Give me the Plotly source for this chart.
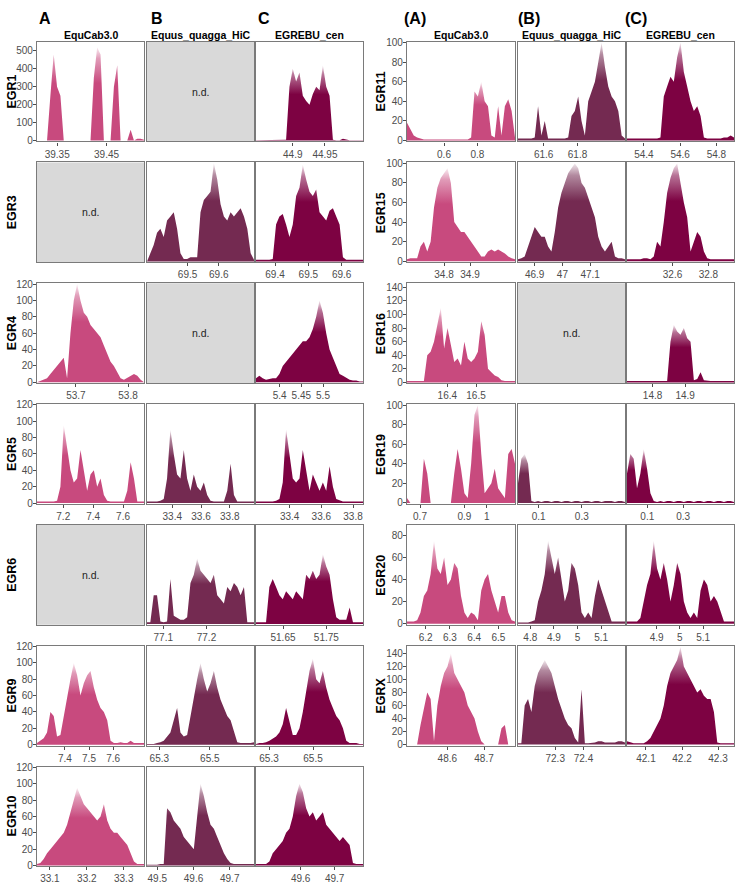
import numpy as np
import plotly.graph_objects as go

# the page body margin is removed (see post_script), so the figure fills the window
OFF = 0
W, H = 740 - OFF, 886 - OFF

genomes = ["EquCab3.0", "Equus_quagga_HiC", "EGREBU_cen"]
fill_colors = ["#C84A7E", "#742A51", "#7D0242"]
left_letters = ["A", "B", "C"]
right_letters = ["(A)", "(B)", "(C)"]

left_genes = ["EGR1", "EGR3", "EGR4", "EGR5", "EGR6", "EGR9", "EGR10"]
right_genes = ["EGR11", "EGR15", "EGR16", "EGR19", "EGR20", "EGRX"]

# y-axis limits and tick values per gene
y_limits = {
    "EGR1": (-5, 552), "EGR3": (-1, 121), "EGR4": (-1, 121), "EGR5": (-1, 121),
    "EGR6": (-1, 121), "EGR9": (-1, 121), "EGR10": (-1, 121),
    "EGR11": (-1, 101), "EGR15": (-1, 101), "EGR16": (-1, 146), "EGR19": (-1, 101),
    "EGR20": (-1, 89.5), "EGRX": (-1.5, 152),
}
y_ticks = {
    "EGR1": [0, 100, 200, 300, 400, 500],
    "EGR3": [0, 20, 40, 60, 80, 100, 120], "EGR4": [0, 20, 40, 60, 80, 100, 120],
    "EGR5": [0, 20, 40, 60, 80, 100, 120], "EGR6": [0, 20, 40, 60, 80, 100, 120],
    "EGR9": [0, 20, 40, 60, 80, 100, 120], "EGR10": [0, 20, 40, 60, 80, 100, 120],
    "EGR11": [0, 20, 40, 60, 80, 100], "EGR15": [0, 20, 40, 60, 80, 100],
    "EGR16": [0, 20, 40, 60, 80, 100, 120, 140], "EGR19": [0, 20, 40, 60, 80, 100],
    "EGR20": [0, 20, 40, 60, 80], "EGRX": [0, 20, 40, 60, 80, 100, 120, 140],
}

# genomic windows (Mb) shown in each panel: [EquCab3.0, Equus_quagga_HiC, EGREBU_cen]; None = n.d.
windows = {
    "EGR1": [(39.309, 39.526), None, (44.843, 45.009)],
    "EGR3": [None, (69.370, 69.713), (69.343, 69.664)],
    "EGR4": [(53.6255, 53.8306), None, (5.3454, 5.5923)],
    "EGR5": [(7.0244, 7.74), (33.2243, 33.9688), (33.1874, 33.863)],
    "EGR6": [None, (77.0623, 77.31), (51.5877, 51.8346)],
    "EGR9": [(7.2841, 7.7283), (65.2513, 65.675), (65.2409, 65.7273)],
    "EGR10": [(33.0649, 33.355), (49.4716, 49.767), (49.4687, 49.7833)],
    "EGR11": [(0.378, 1.026), (61.449, 62.08), (54.3064, 54.8973)],
    "EGR15": [(34.6577, 35.073), (46.84, 47.2258), (32.3463, 32.9426)],
    "EGR16": [(16.2593, 16.636), None, (14.7214, 15.05)],
    "EGR19": [(0.6415, 1.1275), (0.0046, 0.5), (-0.013, 0.5833)],
    "EGR20": [(6.123, 6.5688), (4.7479, 5.2014), (4.7728, 5.2329)],
    "EGRX": [(48.49, 48.7845), (72.1683, 72.547), (42.0474, 42.3443)],
}

x_ticklabels = {
    "EGR1": [["39.35", "39.45"], None, ["44.9", "44.95"]],
    "EGR3": [None, ["69.5", "69.6"], ["69.4", "69.5", "69.6"]],
    "EGR4": [["53.7", "53.8"], None, ["5.4", "5.45", "5.5"]],
    "EGR5": [["7.2", "7.4", "7.6"], ["33.4", "33.6", "33.8"], ["33.4", "33.6", "33.8"]],
    "EGR6": [None, ["77.1", "77.2"], ["51.65", "51.75"]],
    "EGR9": [["7.4", "7.5", "7.6"], ["65.3", "65.5"], ["65.3", "65.5"]],
    "EGR10": [["33.1", "33.2", "33.3"], ["49.5", "49.6", "49.7"], ["49.6", "49.7"]],
    "EGR11": [["0.6", "0.8"], ["61.6", "61.8"], ["54.4", "54.6", "54.8"]],
    "EGR15": [["34.8", "34.9"], ["46.9", "47", "47.1"], ["32.6", "32.8"]],
    "EGR16": [["16.4", "16.5"], None, ["14.8", "14.9"]],
    "EGR19": [["0.7", "0.9", "1"], ["0.1", "0.3"], ["0.1", "0.3"]],
    "EGR20": [["6.2", "6.3", "6.4", "6.5"], ["4.8", "4.9", "5", "5.1"], ["4.9", "5", "5.1"]],
    "EGRX": [["48.6", "48.7"], ["72.3", "72.4"], ["42.1", "42.2", "42.3"]],
}

# read coverage, sampled evenly across each window
coverage = {
    "EGR1": [
        [0, 0, 0, 0, 250, 480, 300, 250, 0, 0, 0, 0, 0, 0, 0, 0, 0, 350, 520, 480, 0, 0, 0, 300, 420, 0, 0, 0, 60, 0, 10, 10, 5],
        None,
        [2, 2, 2, 2, 2, 2, 2, 2, 2, 5, 300, 400, 330, 380, 250, 220, 200, 260, 300, 280, 420, 300, 250, 5, 2, 2, 10, 5, 2, 2, 2, 2, 2],
    ],
    "EGR3": [
        None,
        [0, 10, 20, 35, 40, 30, 50, 55, 60, 40, 10, 3, 3, 5, 5, 5, 60, 75, 80, 85, 120, 100, 70, 55, 50, 60, 55, 60, 65, 55, 40, 10, 2],
        [2, 2, 2, 2, 2, 3, 45, 55, 58, 45, 30, 45, 80, 90, 118, 100, 85, 80, 88, 60, 55, 50, 62, 65, 55, 45, 5, 2, 2, 2, 2, 2, 2],
    ],
    "EGR4": [
        [0, 2, 3, 5, 10, 15, 20, 25, 30, 5, 60, 100, 120, 100, 85, 80, 70, 65, 60, 55, 45, 35, 25, 20, 12, 5, 3, 5, 8, 10, 8, 3, 0],
        None,
        [5, 8, 5, 3, 4, 5, 5, 10, 20, 25, 30, 35, 40, 45, 50, 50, 55, 65, 80, 100, 85, 60, 40, 30, 20, 10, 8, 5, 3, 2, 2, 1, 1],
    ],
    "EGR5": [
        [2, 2, 2, 2, 2, 2, 3, 20, 95, 70, 40, 25, 30, 65, 40, 15, 35, 40, 20, 30, 10, 3, 2, 2, 2, 2, 2, 15, 50, 30, 2, 2, 2],
        [2, 2, 2, 2, 3, 5, 30, 90, 60, 35, 30, 65, 30, 15, 35, 20, 15, 25, 10, 3, 2, 2, 2, 2, 15, 48, 10, 2, 2, 2, 2, 2, 2],
        [2, 2, 2, 2, 2, 2, 3, 5, 25, 90, 60, 30, 25, 30, 65, 40, 15, 35, 25, 15, 25, 15, 45, 20, 5, 3, 2, 2, 2, 2, 2, 2, 2],
    ],
    "EGR6": [
        None,
        [2, 2, 35, 35, 3, 2, 3, 55, 10, 8, 5, 5, 8, 50, 60, 80, 65, 60, 55, 50, 60, 35, 30, 25, 45, 40, 50, 45, 35, 45, 2, 2, 2],
        [2, 2, 2, 2, 45, 55, 45, 35, 30, 40, 35, 30, 40, 35, 30, 60, 55, 65, 55, 60, 85, 70, 60, 30, 8, 5, 5, 5, 20, 2, 2, 2, 2],
    ],
    "EGR9": [
        [2, 5, 8, 15, 40, 35, 10, 12, 35, 60, 80, 100, 85, 60, 75, 85, 90, 70, 55, 45, 40, 30, 5, 2, 2, 3, 2, 2, 5, 2, 2, 2, 2],
        [1, 1, 1, 2, 3, 5, 10, 15, 30, 45, 15, 10, 12, 35, 60, 80, 100, 80, 65, 75, 90, 70, 55, 45, 35, 30, 15, 3, 2, 2, 2, 2, 3],
        [1, 2, 2, 3, 5, 8, 10, 15, 25, 45, 30, 12, 12, 20, 40, 65, 90, 105, 80, 75, 90, 70, 55, 45, 35, 30, 20, 5, 2, 2, 2, 1, 1],
    ],
    "EGR10": [
        [2, 3, 8, 15, 20, 25, 30, 35, 40, 50, 65, 80, 95, 85, 75, 70, 65, 60, 55, 60, 75, 55, 45, 40, 40, 35, 30, 25, 15, 5, 2, 2, 2],
        [1, 1, 1, 1, 2, 2, 70, 65, 55, 50, 45, 35, 30, 25, 20, 60, 100, 85, 65, 50, 45, 35, 25, 15, 8, 3, 2, 2, 2, 2, 2, 2, 2],
        [2, 2, 2, 2, 5, 15, 20, 25, 30, 40, 45, 60, 85, 100, 90, 70, 60, 65, 55, 60, 65, 50, 45, 40, 35, 30, 35, 30, 25, 3, 2, 2, 2],
    ],
    "EGR11": [
        [18, 12, 5, 3, 2, 1, 1, 1, 1, 1, 1, 1, 1, 1, 1, 1, 1, 1, 1, 3, 50, 45, 60, 40, 35, 5, 3, 35, 5, 35, 42, 30, 3],
        [2, 2, 2, 2, 2, 3, 35, 5, 20, 2, 2, 2, 2, 2, 2, 3, 25, 30, 45, 20, 5, 40, 50, 60, 80, 100, 75, 55, 45, 40, 30, 5, 2],
        [2, 2, 2, 2, 2, 2, 2, 2, 2, 2, 3, 45, 55, 65, 60, 85, 100, 70, 55, 40, 30, 35, 25, 3, 2, 2, 2, 2, 2, 3, 3, 5, 3],
    ],
    "EGR15": [
        [2, 3, 3, 3, 15, 20, 10, 20, 55, 75, 85, 90, 95, 80, 40, 35, 30, 30, 25, 20, 15, 10, 5, 5, 10, 12, 10, 12, 10, 8, 5, 3, 2],
        [2, 3, 5, 15, 25, 35, 30, 25, 25, 15, 10, 30, 55, 70, 80, 90, 95, 100, 95, 80, 75, 65, 55, 45, 25, 15, 10, 15, 20, 5, 3, 3, 2],
        [2, 2, 2, 2, 2, 3, 3, 2, 5, 20, 15, 40, 70, 85, 95, 100, 80, 60, 45, 10, 20, 30, 25, 10, 3, 2, 2, 2, 2, 2, 2, 2, 2],
    ],
    "EGR16": [
        [2, 2, 1, 1, 1, 2, 40, 45, 60, 85, 110, 50, 80, 55, 30, 35, 25, 60, 35, 30, 35, 45, 90, 70, 20, 15, 10, 8, 3, 2, 2, 2, 2],
        None,
        [2, 2, 3, 2, 3, 3, 2, 2, 3, 2, 2, 3, 2, 60, 85, 75, 70, 80, 65, 60, 3, 5, 15, 3, 2, 2, 2, 2, 2, 2, 2, 2, 2],
    ],
    "EGR19": [
        [5, 0, 0, 0, 0, 45, 30, 0, 0, 0, 0, 0, 0, 0, 30, 55, 35, 10, 5, 40, 90, 100, 50, 10, 15, 20, 35, 15, 10, 5, 50, 55, 40],
        [20, 45, 50, 40, 2, 1, 2, 1, 2, 2, 1, 2, 2, 1, 2, 2, 1, 2, 2, 1, 2, 2, 1, 2, 2, 1, 2, 2, 2, 1, 2, 2, 1],
        [30, 50, 45, 15, 30, 55, 35, 10, 2, 1, 2, 1, 2, 2, 1, 2, 2, 1, 2, 2, 1, 2, 2, 1, 2, 2, 1, 2, 2, 1, 2, 2, 1],
    ],
    "EGR20": [
        [2, 2, 2, 3, 10, 25, 30, 45, 75, 50, 45, 60, 35, 40, 55, 50, 25, 10, 5, 10, 8, 3, 30, 40, 45, 30, 20, 10, 25, 25, 10, 3, 2],
        [1, 1, 1, 1, 2, 3, 20, 30, 45, 75, 60, 45, 60, 40, 20, 30, 55, 50, 35, 10, 5, 10, 5, 25, 40, 30, 20, 10, 2, 2, 2, 2, 2],
        [2, 2, 2, 2, 5, 20, 35, 45, 75, 50, 40, 55, 40, 20, 35, 55, 45, 20, 10, 5, 10, 5, 30, 40, 35, 20, 25, 20, 10, 2, 2, 2, 2],
    ],
    "EGRX": [
        [0, 0, 0, 0, 30, 55, 80, 70, 5, 60, 90, 110, 120, 140, 110, 100, 90, 80, 60, 50, 40, 20, 5, 0, 0, 0, 0, 0, 25, 30, 0, 0, 0],
        [2, 2, 60, 70, 50, 90, 110, 120, 130, 120, 110, 90, 70, 55, 40, 30, 25, 10, 3, 85, 2, 2, 2, 3, 5, 5, 3, 3, 2, 3, 5, 5, 3],
        [5, 3, 2, 2, 2, 2, 5, 10, 20, 30, 40, 60, 90, 110, 120, 130, 150, 120, 110, 100, 90, 80, 85, 75, 70, 70, 50, 3, 2, 2, 2, 2, 2],
    ],
}

# ---------------- layout geometry (page pixels) ----------------
left_cols = [(37, 144), (147, 254), (256, 363)]
right_cols = [(407, 515), (518, 625), (627, 734)]
ROW0, PITCH, PH = 37, 122.2, 101
FONT = "Liberation Sans, Arial, sans-serif"
TICKC = "#4D4D4D"
FRAME = "#7A7A7A"


def px(x):
    return (x - OFF) / W


def py(y):
    return 1 - (y - OFF) / H


def hex_rgba(h, a):
    h = h.lstrip("#")
    r, g, b = int(h[0:2], 16), int(h[2:4], 16), int(h[4:6], 16)
    return f"rgba({r},{g},{b},{a})"


fig = go.Figure()
layout = {}
annotations = []
shapes = []
k = 0

blocks = [
    (left_genes, left_cols, left_letters, [37, 149, 256], 12),
    (right_genes, right_cols, right_letters, [402, 516, 623], 381),
]
for genes, cols, letters, letter_x, label_x in blocks:
    for ci, (L, R) in enumerate(cols):
        annotations.append(dict(x=px(letter_x[ci]), y=py(14), xref="paper", yref="paper",
                                text=f"<b>{letters[ci]}</b>", showarrow=False,
                                xanchor="left", yanchor="middle",
                                font=dict(family=FONT, size=16, color="black")))
        annotations.append(dict(x=px((L + R) / 2), y=py(30), xref="paper", yref="paper",
                                text=f"<b>{genomes[ci]}</b>", showarrow=False, xanchor="center",
                                yanchor="middle", font=dict(family=FONT, size=10.5, color="black")))
    for ri, gene in enumerate(genes):
        top = ROW0 + PITCH * ri
        ydom = [py(top + PH), py(top)]
        annotations.append(dict(x=px(label_x), y=(ydom[0] + ydom[1]) / 2, xref="paper", yref="paper",
                                text=f"<b>{gene}</b>", textangle=-90, showarrow=False,
                                xanchor="center", yanchor="middle", borderpad=0,
                                font=dict(family=FONT, size=12.5, color="black")))
        for ci, (L, R) in enumerate(cols):
            k += 1
            xn = "x" if k == 1 else f"x{k}"
            yn = "y" if k == 1 else f"y{k}"
            xkey = "xaxis" if k == 1 else f"xaxis{k}"
            ykey = "yaxis" if k == 1 else f"yaxis{k}"
            vals = coverage[gene][ci]
            win = windows[gene][ci]
            base_axis = dict(showgrid=False, zeroline=False, showline=True, mirror=True,
                             linecolor=FRAME, linewidth=1.2)
            if vals is None:
                fig.add_trace(go.Scatter(x=[None], y=[None], xaxis=xn, yaxis=yn,
                                         showlegend=False, hoverinfo="skip"))
                layout[xkey] = dict(base_axis, domain=[px(L), px(R)], anchor=yn, range=[0, 1],
                                    showticklabels=False, ticks="")
                layout[ykey] = dict(base_axis, domain=ydom, anchor=xn, range=[0, 1],
                                    showticklabels=False, ticks="")
                shapes.append(dict(type="rect", xref=f"{xn} domain", yref=f"{yn} domain",
                                   x0=0, x1=1, y0=0, y1=1, fillcolor="#D9D9D9",
                                   line=dict(width=0), layer="below"))
                annotations.append(dict(x=0.5, y=0.5, xref=f"{xn} domain", yref=f"{yn} domain",
                                        text="n.d.", showarrow=False,
                                        font=dict(family=FONT, size=10.5, color="#222222")))
                continue
            xs = np.linspace(win[0], win[1], len(vals))
            col = fill_colors[ci]
            vmax = max(vals)
            fig.add_trace(go.Scatter(
                x=xs, y=vals, xaxis=xn, yaxis=yn, mode="lines",
                line=dict(width=0, color=col), fill="tozeroy",
                fillgradient=dict(type="vertical", start=0, stop=vmax,
                                  colorscale=[[0, col], [0.62, col], [0.88, hex_rgba(col, 0.55)],
                                              [1, hex_rgba(col, 0.1)]]),
                showlegend=False, hoverinfo="skip"))
            labels = x_ticklabels[gene][ci]
            layout[xkey] = dict(base_axis, domain=[px(L), px(R)], anchor=yn, range=list(win),
                                tickmode="array", tickvals=[float(s) for s in labels], ticktext=labels,
                                ticks="outside", ticklen=3, tickwidth=1, tickcolor=TICKC,
                                tickfont=dict(family=FONT, size=10, color=TICKC))
            yax = dict(base_axis, domain=ydom, anchor=xn, range=list(y_limits[gene]))
            if ci == 0:
                yax.update(tickmode="array", tickvals=y_ticks[gene], ticks="outside", ticklen=3,
                           tickwidth=1, tickcolor=TICKC, ticklabelstandoff=-2,
                           tickfont=dict(family=FONT, size=10, color=TICKC))
            else:
                yax.update(showticklabels=False, ticks="")
            layout[ykey] = yax

fig.update_layout(**layout)
fig.update_layout(width=W, height=H, margin=dict(l=0, r=0, t=0, b=0),
                  paper_bgcolor="white", plot_bgcolor="white",
                  annotations=annotations, shapes=shapes, showlegend=False)
fig.write_html("out.html", config={"displayModeBar": False},
               post_script="document.body.style.margin='0px';")
